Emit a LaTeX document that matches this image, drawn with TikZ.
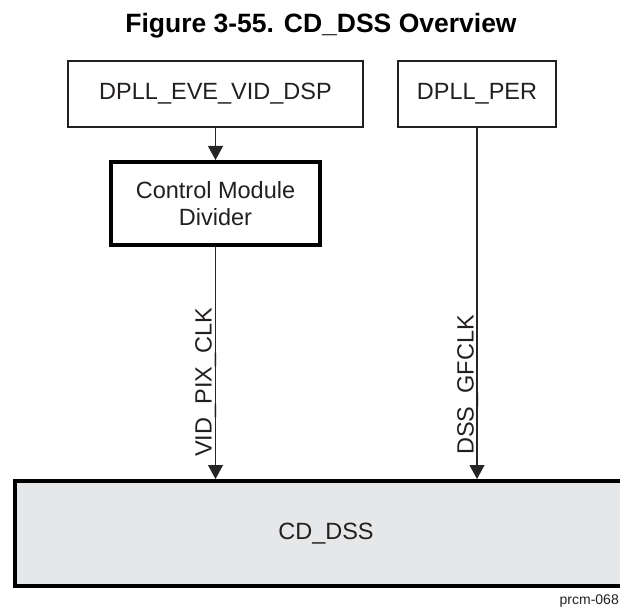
\documentclass[tikz,border=0pt]{standalone}
\usepackage{fontspec}
\setmainfont{Liberation Sans}
\usepackage{tikz}
\usetikzlibrary{arrows.meta, positioning, calc}

\definecolor{inkgray}{HTML}{231F20}
\definecolor{dssfill}{HTML}{E6E7E8}

\begin{document}
\begin{tikzpicture}[
        x=1pt, y=1pt,
        font=\fontsize{23.5}{27}\selectfont,
        text=inkgray,
        clkbox/.style={draw=inkgray, line width=2.5pt, inner sep=0pt, minimum width=#1, minimum height=66pt, align=center},
        divbox/.style={draw=black, line width=4pt, inner sep=0pt, minimum width=209pt, minimum height=83pt, align=center},
        domainbox/.style={draw=black, line width=4pt, fill=dssfill, inner sep=0pt, minimum width=622pt, minimum height=105pt},
        siglbl/.style={rotate=90, anchor=base west, inner sep=0pt},
        arr/.style={-{Triangle[length=14pt, width=15pt]}, line width=1.1pt, color=black!85}
      ]
        \useasboundingbox (0,0) rectangle (620,-609);

        \node[font=\fontsize{26.5}{30}\selectfont\bfseries, text=black, anchor=base] (title) at (321,-33) {Figure 3-55. CD\_DSS Overview};

        \node[clkbox=295pt] (eve) at (215.5,-94) {DPLL\_EVE\_VID\_DSP};
        \node[clkbox=158pt] (per) at (477,-94) {DPLL\_PER};
        \node[divbox] (div) at (215.5,-203.5) {Control Module\\Divider};
        \node[domainbox] (dss) at (326,-533.5) {CD\_DSS};

        \draw[arr] (eve) -- (div);
        \draw[arr] (div.south) -- (div.south |- dss.north);
        \draw[arr] (per.south) -- (per.south |- dss.north);

        \node[siglbl] (vidclk) at (211.5,-457) {VID\_PIX\_CLK};
        \node[siglbl] (gfclk) at (473.5,-455) {DSS\_GFCLK};

        \node[font=\fontsize{14}{16}\selectfont, anchor=base east, inner sep=0pt] (tag) at (619,-604) {prcm-068};
      \end{tikzpicture}
\end{document}
